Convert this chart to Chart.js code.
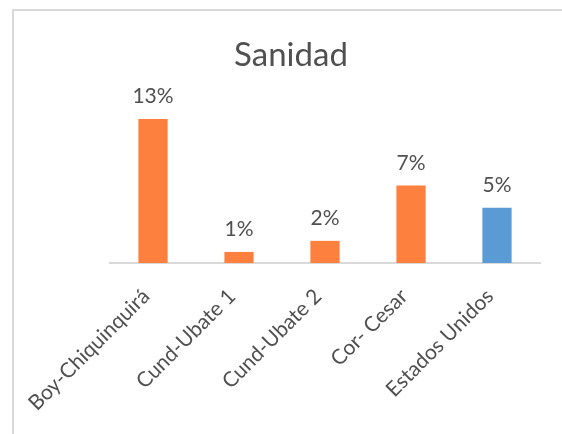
<!DOCTYPE html>
<html lang="en">
  <head>
    <meta charset="utf-8" />
    <title>Sanidad</title>
    <style>
      * {
        margin: 0;
        padding: 0;
      }
      body {
        width: 562px;
        height: 434px;
        overflow: hidden;
        background: white;
        position: relative;
      }
      .frame {
        position: absolute;
        left: 12px;
        top: 9px;
        width: 600px;
        height: 480px;
        border: 2px solid #d9d9d9;
      }
      #myChart {
        position: absolute;
        left: 0;
        top: 0;
      }
    </style>
  </head>
  <body>
    <div class="frame"></div>
    <canvas id="myChart" width="562" height="434"></canvas>

    <script src="https://cdn.jsdelivr.net/npm/chart.js@4.4.0/dist/chart.umd.min.js"></script>

    <script>
      const categories = [
        "Boy-Chiquinquirá",
        "Cund-Ubate 1",
        "Cund-Ubate 2",
        "Cor- Cesar",
        "Estados Unidos",
      ];
      const values = [13, 1, 2, 7, 5];
      const barColors = ["#fe803f", "#fe803f", "#fe803f", "#fe803f", "#5b9bd5"];
      const chartTitle = "Sanidad";

      const fontName = "Lato, 'Open Sans', sans-serif";
      const textColor = "#505050";

      // title block (centred on the frame, not on the plot area)
      const titleText = {
        id: "titleText",
        afterDraw(chart) {
          const { ctx } = chart;
          ctx.save();
          ctx.font = "33px " + fontName;
          ctx.fillStyle = textColor;
          ctx.textAlign = "center";
          ctx.textBaseline = "alphabetic";
          ctx.fillText(chartTitle, 291, 66);
          ctx.restore();
        },
      };

      // value labels above bars
      const valueLabels = {
        id: "valueLabels",
        afterDatasetsDraw(chart) {
          const { ctx } = chart;
          ctx.save();
          ctx.font = "21px " + fontName;
          ctx.fillStyle = textColor;
          ctx.textAlign = "center";
          ctx.textBaseline = "alphabetic";
          chart.getDatasetMeta(0).data.forEach((bar, i) => {
            ctx.fillText(values[i] + "%", bar.x, bar.y - 16);
          });
          ctx.restore();
        },
      };

      const config = {
        type: "bar",
        data: {
          labels: categories,
          datasets: [
            {
              data: values,
              backgroundColor: barColors,
              borderWidth: 0,
              barPercentage: 0.34,
              categoryPercentage: 1,
            },
          ],
        },
        options: {
          responsive: false,
          animation: false,
          layout: {
            padding: { left: 110, right: 22, top: 108, bottom: 0 },
          },
          plugins: {
            legend: { display: false },
            tooltip: { enabled: false },
            title: { display: false },
          },
          scales: {
            x: {
              grid: { display: false, drawTicks: false },
              border: { color: "#d9d9d9", width: 2 },
              ticks: {
                minRotation: 45,
                maxRotation: 45,
                padding: 21,
                labelOffset: -7,
                color: textColor,
                font: { family: fontName, size: 21 },
              },
              afterFit(scale) {
                scale.height = 171;
              },
            },
            y: {
              display: false,
              min: 0,
              max: 14,
            },
          },
        },
        plugins: [valueLabels, titleText],
      };

      const myChart = new Chart(document.getElementById("myChart"), config);
    </script>
  </body>
</html>
